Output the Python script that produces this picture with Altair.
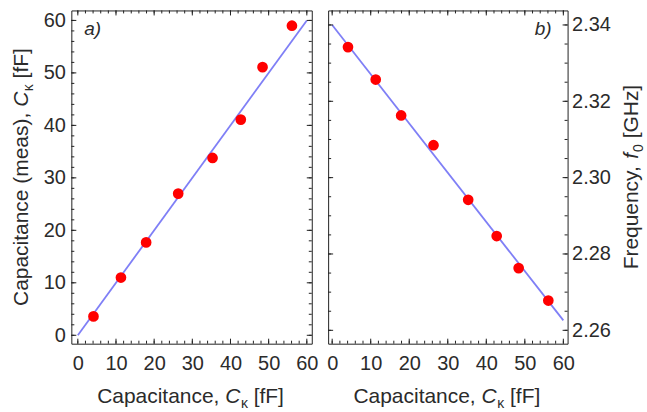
import altair as alt
import pandas as pd

# ---------------- data ----------------
cap_design = [4.1, 11.3, 17.9, 26.3, 35.3, 42.7, 48.4, 56.1]
cap_measured = [3.6, 11.0, 17.7, 27.0, 33.8, 41.1, 51.1, 59.0]
freq_ghz = [2.3342, 2.3257, 2.3163, 2.3085, 2.2942, 2.2847, 2.2763, 2.2678]

fit_cap = [0, 60]
fit_measured = [0, 60]
fit_freq = [2.34, 2.2626]

cap_ticks_major = [0, 10, 20, 30, 40, 50, 60]
cap_ticks_minor = [0, 2, 4, 6, 8, 10, 12, 14, 16, 18, 20, 22, 24, 26, 28, 30,
                   32, 34, 36, 38, 40, 42, 44, 46, 48, 50, 52, 54, 56, 58, 60]
freq_ticks_major = [2.26, 2.28, 2.30, 2.32, 2.34]
freq_ticks_minor = [2.26, 2.265, 2.27, 2.275, 2.28, 2.285, 2.29, 2.295, 2.30,
                    2.305, 2.31, 2.315, 2.32, 2.325, 2.33, 2.335, 2.34]

# scale extents
x_dom_a = [-1.7, 61.3]
y_dom_a = [-1.6, 61.9]
x_dom_b = [-1.05, 61.1]
y_dom_b = [2.2565, 2.3438]

# ---------------- style ----------------
FONT = "Liberation Sans"
TXT = "#2b2b2b"
FRAME = "#222222"
H = 334
W_A = 241
W_B = 240
MAJ = 5
MIN = 3
TICK_FS = 20
TITLE_FS = 21
SUB_FS = 14

CW = {'C': .722, 'a': .556, 'p': .556, 'c': .5, 'i': .222, 't': .278, 'n': .556,
      'e': .556, ',': .278, ' ': .278, '(': .333, ')': .333, 'm': .833, 's': .5,
      '[': .278, ']': .278, 'f': .278, 'F': .611, 'r': .333, 'q': .556, 'u': .556,
      'y': .5, 'G': .778, 'H': .722, 'z': .5, '0': .556, 'κ': .5}


def tw(s, size):
    return sum(CW.get(ch, 0.556) for ch in s) * size


def text_layer(txt, x, y, size, italic=False, angle=0, align="left"):
    kw = dict(font=FONT, fontSize=size, fontStyle="italic" if italic else "normal",
              align=align, baseline="alphabetic", color=TXT)
    if angle:
        kw["angle"] = angle
    return alt.Chart(pd.DataFrame({"t": [txt]})).mark_text(**kw).encode(
        x=alt.value(x), y=alt.value(y), text="t:N")


def rich_title(segments, center, base, vertical=False):
    """segments: (text, size, italic, shift, gap_before)"""
    total = sum(g + tw(t, s) for t, s, it, sh, g in segments)
    cur = 0.0
    layers = []
    for t, s, it, sh, g in segments:
        cur += g
        if vertical:
            layers.append(text_layer(t, base + sh, center + total / 2 - cur, s,
                                     italic=it, angle=270))
        else:
            layers.append(text_layer(t, center - total / 2 + cur, base + sh, s,
                                     italic=it))
        cur += tw(t, s)
    return layers


SP = tw(" ", TITLE_FS)


def label_axis(values, orient, pad, fmt=None):
    kw = dict(values=values, orient=orient, title=None, ticks=False,
              domain=False, grid=False, labelFont=FONT, labelFontSize=TICK_FS,
              labelColor=TXT, labelPadding=pad, labelFlush=False, labelOverlap=False)
    if fmt:
        kw["format"] = fmt
    return alt.Axis(**kw)


def panel(W, xdom, ydom, yvals, fit_y, ymaj, ymin, yorient, ypad, yfmt,
          xtitle, ytitle, ytitle_base, tag, tag_x, tag_align):
    xs = alt.Scale(domain=xdom, zero=False, nice=False)
    ys = alt.Scale(domain=ydom, zero=False, nice=False)
    xax = label_axis(cap_ticks_major, "bottom", 10)
    yax = label_axis(ymaj, yorient, ypad, yfmt)

    def X(f):
        return alt.X(f, type="quantitative", scale=xs, axis=xax)

    def Y(f):
        return alt.Y(f, type="quantitative", scale=ys, axis=yax)

    pts_df = pd.DataFrame({"c": cap_design, "v": yvals})
    fit_df = pd.DataFrame({"c": fit_cap, "v": fit_y})
    pts = alt.Chart(pts_df).mark_circle(size=115, color="#ff0000", opacity=1).encode(
        x=X("c"), y=Y("v"))
    line = alt.Chart(fit_df).mark_line(color="#7f7ff6", strokeWidth=1.8).encode(
        x=X("c"), y=Y("v"))

    def ticks(vals, channel, length):
        base = alt.Chart(pd.DataFrame({"v": vals})).mark_rule(color=FRAME, strokeWidth=1)
        if channel == "x":
            return [base.encode(x=X("v"), y=alt.value(H), y2=alt.value(H - length)),
                    base.encode(x=X("v"), y=alt.value(0), y2=alt.value(length))]
        return [base.encode(y=Y("v"), x=alt.value(0), x2=alt.value(length)),
                base.encode(y=Y("v"), x=alt.value(W), x2=alt.value(W - length))]

    layers = [line, pts]
    layers += ticks(cap_ticks_minor, "x", MIN)
    layers += ticks(cap_ticks_major, "x", MAJ)
    layers += ticks(ymin, "y", MIN)
    layers += ticks(ymaj, "y", MAJ)
    layers += rich_title(xtitle, W / 2 - 1, 393)
    layers += rich_title(ytitle, H / 2, ytitle_base, vertical=True)
    layers.append(text_layer(tag, tag_x, 25, 19, italic=True, align=tag_align))
    return alt.layer(*layers).properties(width=W, height=H)


x_title = [("Capacitance,", TITLE_FS, False, 0, 0), ("C", TITLE_FS, True, 0, SP),
           ("κ", SUB_FS, False, 5, 0.5), ("[fF]", TITLE_FS, False, 0, SP)]
y_title_a = [("Capacitance (meas),", TITLE_FS, False, 0, 0), ("C", TITLE_FS, True, 0, SP),
             ("κ", SUB_FS, False, 5, 0.5), ("[fF]", TITLE_FS, False, 0, SP)]
y_title_b = [("Frequency,", TITLE_FS, False, 0, 0), ("f", TITLE_FS, True, 0, SP),
             ("0", SUB_FS, False, 5, 1), ("[GHz]", TITLE_FS, False, 0, SP)]

panel_a = panel(W_A, x_dom_a, y_dom_a, cap_measured, fit_measured,
                cap_ticks_major, cap_ticks_minor, "left", 6, None,
                x_title, y_title_a, -43.5, "a)", 13, "left")
panel_b = panel(W_B, x_dom_b, y_dom_b, freq_ghz, fit_freq,
                freq_ticks_major, freq_ticks_minor, "right", 4, ".2f",
                x_title, y_title_b, 311, "b)", 224, "right")

chart = alt.hconcat(panel_a, panel_b, spacing=6.4).properties(
    padding={"left": 10.5, "top": 9, "right": 0, "bottom": 0},
    background="white",
).configure_view(stroke=FRAME, strokeWidth=1, fill="white")

chart.save("out.html", embed_options={"renderer": "svg", "actions": False})
